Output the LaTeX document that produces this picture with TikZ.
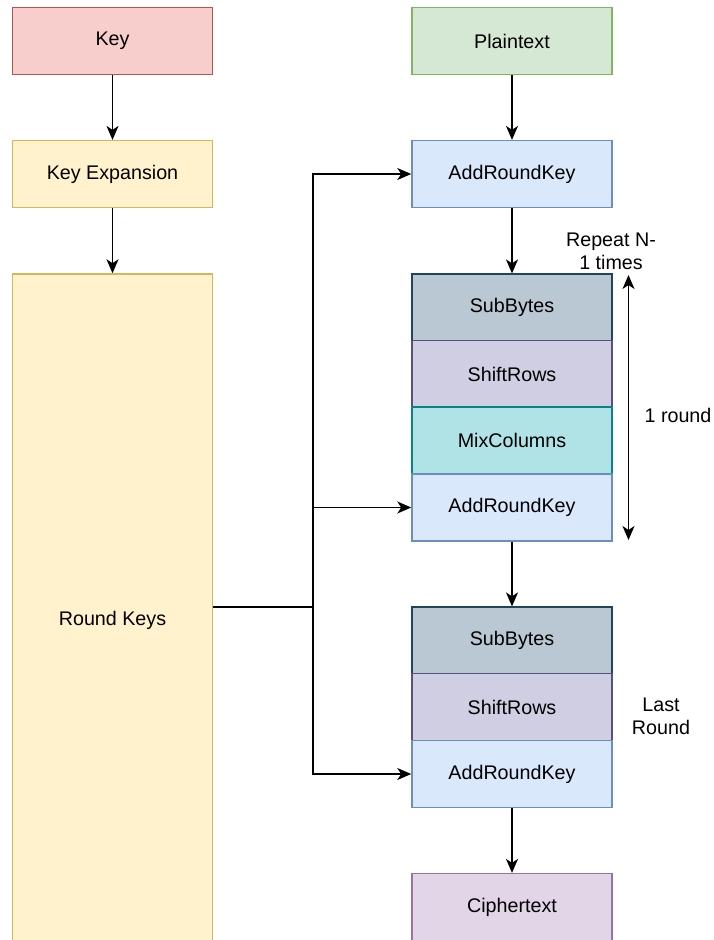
\documentclass[tikz,border=0pt]{standalone}
\usepackage{fontspec}
\setmainfont{Liberation Sans}
\usetikzlibrary{arrows.meta}

% fill / stroke pairs for the blocks
\definecolor{keyfill}{HTML}{F8CECC}\definecolor{keydraw}{HTML}{B85450}
\definecolor{expfill}{HTML}{FFF2CC}\definecolor{expdraw}{HTML}{D6B656}
\definecolor{ptfill}{HTML}{D5E8D4}\definecolor{ptdraw}{HTML}{82B366}
\definecolor{arkfill}{HTML}{DAE8FC}\definecolor{arkdraw}{HTML}{6C8EBF}
\definecolor{sbfill}{HTML}{BAC8D3}\definecolor{sbdraw}{HTML}{23445D}
\definecolor{srfill}{HTML}{D0CEE2}\definecolor{srdraw}{HTML}{56517E}
\definecolor{mcfill}{HTML}{B0E3E6}\definecolor{mcdraw}{HTML}{0E8088}
\definecolor{ctfill}{HTML}{E1D5E7}\definecolor{ctdraw}{HTML}{9673A6}

\tikzset{ctip/.tip={Stealth[length=14pt,width=12pt,inset=4pt]}}

\begin{document}
\begin{tikzpicture}[x=1pt,y=-1pt,
  txt/.style={font=\fontsize{19.7}{23}\selectfont},
  blk/.style={txt, draw, line width=1.5pt, minimum width=200pt,
              minimum height=66.7pt, inner sep=0pt},
  keyblk/.style={blk, fill=keyfill, draw=keydraw},
  expblk/.style={blk, fill=expfill, draw=expdraw},
  ptblk/.style={blk, fill=ptfill, draw=ptdraw},
  arkblk/.style={blk, fill=arkfill, draw=arkdraw},
  sbblk/.style={blk, fill=sbfill, draw=sbdraw},
  srblk/.style={blk, fill=srfill, draw=srdraw},
  mcblk/.style={blk, fill=mcfill, draw=mcdraw},
  ctblk/.style={blk, fill=ctfill, draw=ctdraw},
  lbl/.style={txt, align=center, inner sep=0pt},
  flow/.style={line width=1.7pt, -{ctip}},
  wire/.style={line width=1.7pt}]

\useasboundingbox (0,0) rectangle (714,940);
\clip (0,0) rectangle (714,940);

% key schedule column
\node[keyblk] (key) at (112.5,41) {Key};
\node[expblk] (kexp) at (112.5,174) {Key Expansion};
\node[expblk, minimum height=692pt] (rk) at (112.5,620) {Round Keys};

% cipher column
\node[ptblk] (pt) at (512,41) {Plaintext};
\node[arkblk] (ark0) at (512,174) {AddRoundKey};
\node[sbblk] (sb1) at (512,307.5) {SubBytes};
\node[srblk] (sr1) at (512,374) {ShiftRows};
\node[mcblk] (mc1) at (512,440.5) {MixColumns};
\node[arkblk] (ark1) at (512,507.5) {AddRoundKey};
\node[sbblk] (sb2) at (512,640.5) {SubBytes};
\node[srblk] (sr2) at (512,707) {ShiftRows};
\node[arkblk] (ark2) at (512,774) {AddRoundKey};
\node[ctblk] (ct) at (512,907) {Ciphertext};

% vertical flow
\draw[flow] (key) -- (kexp);
\draw[flow] (kexp) -- (rk);
\draw[flow] (pt) -- (ark0);
\draw[flow] (ark0) -- (sb1);
\draw[flow] (ark1) -- (sb2);
\draw[flow] (ark2) -- (ct);

% round keys distributed to every AddRoundKey
\coordinate (jn) at (313,607);
\draw[wire] (rk.east |- jn) -- (jn);
\draw[flow] (jn) |- (ark0.west);
\draw[flow] (jn) |- (ark1.west);
\draw[flow] (jn) |- (ark2.west);

% round span marker
\coordinate (rtop) at (628.5,275);
\coordinate (rbot) at (628.5,540);
\draw[line width=1.7pt, {ctip}-{ctip}] (rtop) -- (rbot);

\node[lbl] (rep) at (611,251) {Repeat N-\\1 times};
\node[lbl] (one) at (678,415) {1 round};
\node[lbl] (last) at (661,716) {Last\\Round};
\end{tikzpicture}
\end{document}
